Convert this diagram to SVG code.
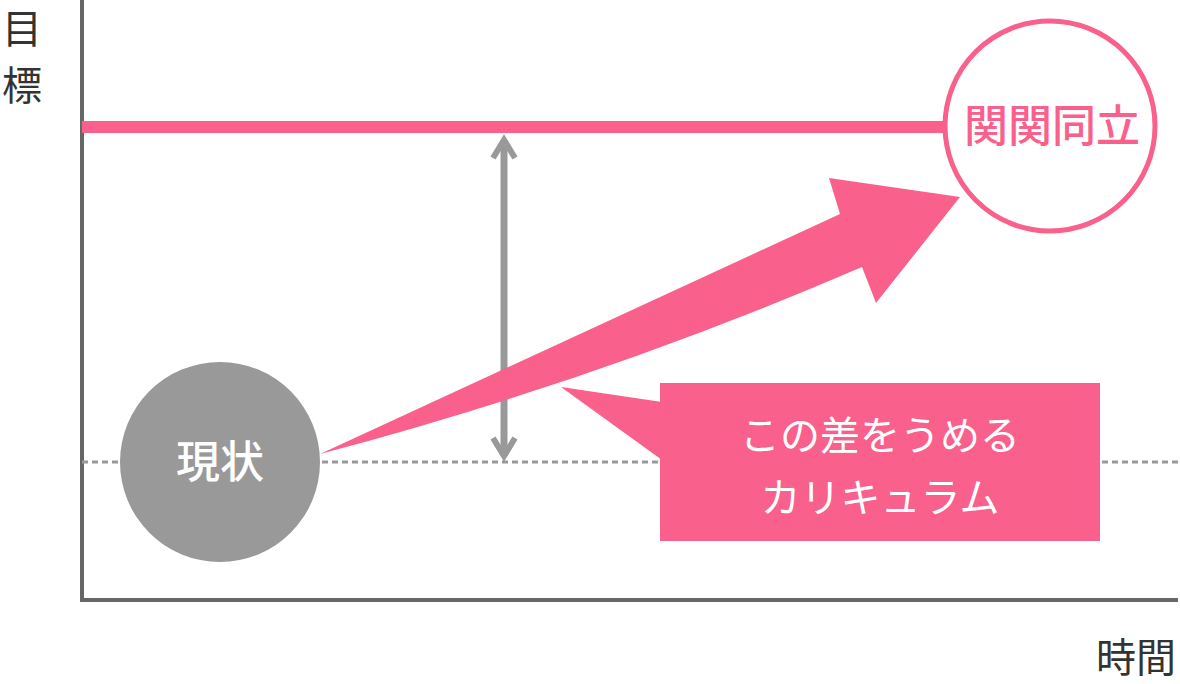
<svg xmlns="http://www.w3.org/2000/svg" width="1180" height="684" viewBox="0 0 1180 684">
<style>
text{font-family:"Noto Sans CJK JP",sans-serif}
.pk{fill:#f9608b}
</style>
<rect width="1180" height="684" fill="#fff"/>
<g id="axes" fill="none" stroke="#666" stroke-width="4">
<path d="M82 0V600H1178"/>
</g>
<text x="2" y="43" font-size="40" fill="#333">目</text>
<text x="2" y="100" font-size="40" fill="#333">標</text>
<text x="1176" y="672" font-size="40" fill="#333" text-anchor="end">時間</text>
<g id="connectors">
<line x1="82" y1="462" x2="1178" y2="462" stroke="#999" stroke-width="3" stroke-dasharray="6 4"/>
<line x1="82" y1="127" x2="948" y2="127" stroke="#f9608b" stroke-width="12"/>
<g stroke="#999" stroke-width="7" fill="none">
<line x1="504" y1="140" x2="504" y2="456"/>
<path d="M493 158L504 140L515 158M493 438L504 456L515 438" stroke-width="6"/>
</g>
<path class="pk" d="M320 454L840 214L829 178L960 197L876 303L862 267Q600 380 320 454Z"/>
</g>
<g id="goal">
<circle cx="1050" cy="126" r="105" fill="#fff" stroke="#f9608b" stroke-width="5"/>
<text x="1052" y="142" font-size="44" font-weight="500" fill="#f9608b" text-anchor="middle">関関同立</text>
</g>
<g id="current">
<circle cx="220" cy="462" r="100" fill="#999"/>
<text x="220" y="478" font-size="44" font-weight="500" fill="#fff" text-anchor="middle">現状</text>
</g>
<g id="callout">
<path class="pk" d="M561 387L662 402V460Z"/>
<rect class="pk" x="660" y="383" width="440" height="158"/>
<text x="880" y="450" font-size="40" fill="#fff" text-anchor="middle">この差をうめる</text>
<text x="880" y="512" font-size="40" fill="#fff" text-anchor="middle">カリキュラム</text>
</g>
</svg>
